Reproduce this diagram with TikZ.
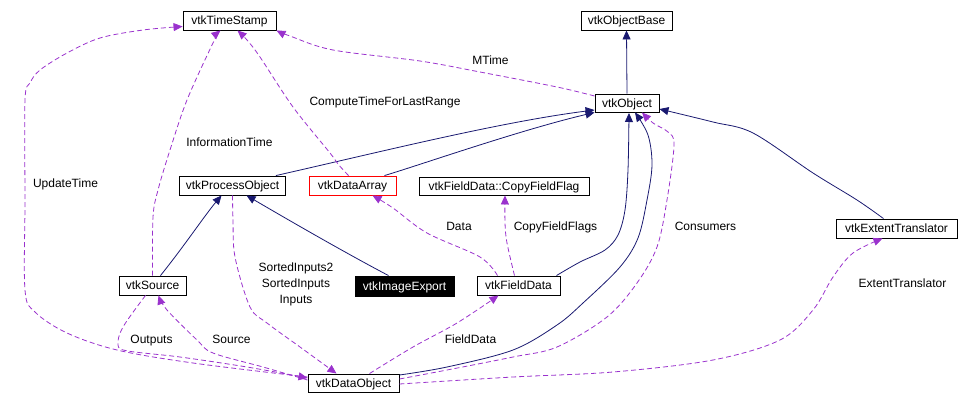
\documentclass[tikz,border=0pt]{standalone}
\usepackage{fontspec}
\setmainfont{Liberation Sans}
\usetikzlibrary{arrows.meta,calc}
\definecolor{navyc}{RGB}{25,25,112}
\definecolor{purp}{RGB}{154,50,205}
\begin{document}
\begin{tikzpicture}[x=1pt,y=-1pt,
  cls/.style={draw=black,line width=0.9pt,minimum height=19pt,inner sep=0pt,
    font=\fontsize{12}{16}\selectfont,text height=8.6pt,text depth=0pt},
  lbl/.style={inner sep=0pt,font=\fontsize{12}{16}\selectfont,text height=8.6pt,text depth=0pt},
  inh/.style={draw=navyc,line width=0.8pt,-{Triangle[length=9pt,width=8pt]}},
  use/.style={draw=purp,line width=0.8pt,dash pattern=on 5pt off 3pt,-{Triangle[length=9pt,width=8pt,fill=purp]}},
]
\useasboundingbox (0,0) rectangle (958,405);

% classes
\node[cls,minimum width=93pt] (ts) at (229.5,20.5) {vtkTimeStamp};
\node[cls,minimum width=91pt] (base) at (626.5,20.5) {vtkObjectBase};
\node[cls,minimum width=64pt,minimum height=18pt] (obj) at (627,103) {vtkObject};
\node[cls,minimum width=106pt] (po) at (232.5,185.5) {vtkProcessObject};
\node[cls,draw=red,minimum width=87pt] (da) at (352.5,185.5) {vtkDataArray};
\node[cls,minimum width=170pt,minimum height=18pt] (cff) at (504,186) {vtkFieldData::CopyFieldFlag};
\node[cls,minimum width=121pt] (et) at (896.5,228.5) {vtkExtentTranslator};
\node[cls,minimum width=67pt] (src) at (152.5,285.5) {vtkSource};
\node[cls,fill=black,text=white,minimum width=99pt,minimum height=20pt] (ie) at (404.5,286) {vtkImageExport};
\node[cls,minimum width=83pt] (fd) at (518.5,285.5) {vtkFieldData};
\node[cls,minimum width=91pt,minimum height=18pt] (do) at (353.5,383) {vtkDataObject};

% inheritance
\draw[inh] (obj.north) -- (base.south);
\draw[inh] ($(po.north east)+(-10,0)$) .. controls (380,152) and (500,122) .. ($(obj.west)+(0,7)$);
\draw[inh] ($(da.north east)+(-12,0)$) .. controls (420,165) and (520,130) .. (obj.south west);
\draw[inh] plot[smooth,tension=0.55] coordinates {($(fd.north east)+(-4,0)$) (580,262) (605,250) (618,235) (625,210) (628,170) (629,113)};
\draw[inh] plot[smooth,tension=0.55] coordinates {($(do.east)+(0,-8)$) (447,367) (513,350) (557,325) (583,303) (620,267) (638,238) (647,200) (652,165) (648,135) ($(obj.south)+(8,0)$)};
\draw[inh] plot[smooth,tension=0.55] coordinates {($(et.north)+(-13,0)$) (857,200) (813,173) (753,133) (713,122) ($(obj.east)+(0,6)$)};
\draw[inh] ($(src.north)+(8,0)$) .. controls (185,245) and (205,215) .. ($(po.south)+(-11,0)$);
\draw[inh] ($(ie.north)+(-16,0)$) .. controls (340,250) and (280,215) .. ($(po.south)+(14,0)$);

% usage
\draw[use] plot[smooth,tension=0.55] coordinates {($(obj.west)+(0,-7)$) (557,87) (480,72) (420,61) (333,50) (290,36) (ts.south east)};
\draw[use] plot[smooth,tension=0.55] coordinates {($(da.north)+(-4,0)$) (338,164) (330,153) (293,107) (260,57) (247,40) ($(ts.south)+(8,0)$)};
\draw[use] plot[smooth,tension=0.55] coordinates {(src.north) (153,217) (158,190) (170,150) (187,100) (213,43) ($(ts.south)+(-9,0)$)};
\draw[use] plot[smooth,tension=0.55] coordinates {($(do.west)+(0,-6)$) (193,363) (117,350) (67,333) (35,312) (25,290) (25,200) (25,100) (30,83) (40,70) (67,53) (100,38) (143,30) ($(ts.west)+(0,6)$)};
\draw[use] plot[smooth,tension=0.55] coordinates {($(src.south)+(-7,0)$) (123,327) (118,345) (128,351) (180,357) (247,367) ($(do.west)+(0,-5)$)};
\draw[use] plot[smooth,tension=0.55] coordinates {($(do.west)+(0,-3)$) (263,367) (213,353) (197,340) (167,310) ($(src.south)+(6,0)$)};
\draw[use] plot[smooth,tension=0.55] coordinates {(po.south) (233,220) (235,257) (250,307) (267,323) (300,347) ($(do.north)+(-17,0)$)};
\draw[use] plot[smooth,tension=0.55] coordinates {($(fd.north)+(-21,0)$) (480,257) (427,233) (393,208) ($(da.south)+(20,0)$)};
\draw[use] plot[smooth,tension=0.55] coordinates {($(fd.north)+(-4,0)$) (507,243) (505,223) ($(cff.south)+(1,0)$)};
\draw[use] plot[smooth,tension=0.55] coordinates {($(do.north)+(16,0)$) (413,347) (457,323) ($(fd.south)+(-20,0)$)};
\draw[use] plot[smooth,tension=0.55] coordinates {($(do.east)+(0,-4)$) (447,370) (513,357) (557,347) (607,317) (637,283) (657,247) (667,200) (674,145) (668,132) (653,123) ($(obj.south)+(15,0)$)};
\draw[use] plot[smooth,tension=0.55] coordinates {($(do.east)+(0,1)$) (513,377) (613,372) (713,360) (780,340) (813,310) (833,277) (853,253) ($(et.south)+(-14,0)$)};

% labels
\node[lbl] (lmt) at (490.5,60) {MTime};
\node[lbl] (lct) at (385,101.5) {ComputeTimeForLastRange};
\node[lbl] (lit) at (229.5,142.5) {InformationTime};
\node[lbl] (lut) at (65.5,183.5) {UpdateTime};
\node[lbl] (lda) at (459,226.5) {Data};
\node[lbl] (lcf) at (555.5,226.5) {CopyFieldFlags};
\node[lbl] (lco) at (705.5,226.5) {Consumers};
\node[lbl] (let) at (902.5,283.5) {ExtentTranslator};
\node[inner sep=0pt,align=center,font=\fontsize{12}{16}\selectfont] (lin) at (296,284.5) {SortedInputs2\\SortedInputs\\Inputs};
\node[lbl] (lou) at (151.5,339.5) {Outputs};
\node[lbl] (lso) at (231.5,339.5) {Source};
\node[lbl] (lfd) at (470.5,339.5) {FieldData};
\end{tikzpicture}
\end{document}
